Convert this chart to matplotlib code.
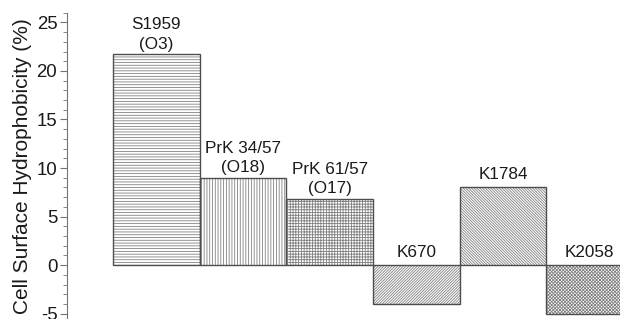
import matplotlib.pyplot as plt
from matplotlib.ticker import MultipleLocator

plt.rcParams["font.family"] = ["Liberation Sans", "DejaVu Sans"]
plt.rcParams["hatch.linewidth"] = 0.6
plt.rcParams["axes.unicode_minus"] = False

strains = ["S1959\n(O3)", "PrK 34/57\n(O18)", "PrK 61/57\n(O17)", "K670", "K1784", "K2058"]
hydrophobicity = [21.7, 9.0, 6.8, -4.0, 8.0, -5.0]
hatches = ["------", "||||||", "++++++", "/" * 12, "\\" * 12, "x" * 10]


def plot_hydrophobicity() -> None:
    fig = plt.figure(figsize=(6.2, 3.19), dpi=100)
    ax = fig.add_axes([67 / 620, 0.0, 1 - 67 / 620, 1 - 12.7 / 319])

    positions = list(range(len(strains)))
    for pos, val, hatch in zip(positions, hydrophobicity, hatches):
        ax.bar(pos, val, width=1.0, color="white", edgecolor="0.5",
               hatch=hatch, linewidth=0)
        ax.bar(pos, val, width=1.0, fill=False, edgecolor="0.3", linewidth=1.0)
        label_y = max(val, 0)
        offset = 2 if "\n" in strains[pos] else 4
        ax.annotate(strains[pos], (pos, label_y), xytext=(0, offset),
                    textcoords="offset points", ha="center", va="bottom",
                    fontsize=12.3, color="0.1", linespacing=1.35)

    ax.set_xlim(-1.03, 5.35)
    ax.set_ylim(-5.55, 26)
    ax.yaxis.set_major_locator(MultipleLocator(5))
    ax.yaxis.set_minor_locator(MultipleLocator(1))
    ax.tick_params(axis="y", which="major", length=5, width=0.8,
                   color="0.45", labelsize=13.4, labelcolor="0.1", pad=2)
    ax.tick_params(axis="y", which="minor", length=3, width=0.6, color="0.45")
    ax.set_xticks([])
    for side in ["top", "right", "bottom"]:
        ax.spines[side].set_visible(False)
    ax.spines["left"].set_color("0.45")
    ax.spines["left"].set_linewidth(0.8)
    ax.set_ylabel("Cell Surface Hydrophobicity (%)", fontsize=15,
                  color="0.1", labelpad=3)

    fig.savefig("out.png", dpi=100)


if __name__ == "__main__":
    plot_hydrophobicity()
